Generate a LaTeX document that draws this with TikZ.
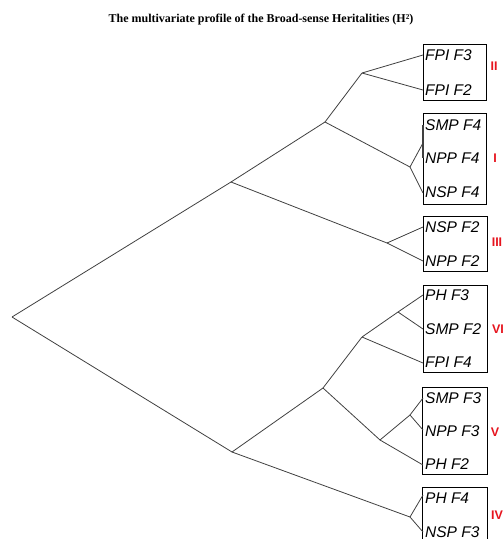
\documentclass[tikz,border=0pt]{standalone}
\usepackage{fontspec}
\setmainfont{Liberation Serif}
\setsansfont{Liberation Sans}
\definecolor{grpred}{RGB}{230,20,30}
\begin{document}
\begin{tikzpicture}[x=1pt,y=-1pt,
  branch/.style={draw=black!75,line width=0.8pt},
  clusterbox/.style={draw=black,line width=0.7pt},
  leaf/.style={anchor=west,inner sep=0pt,font=\sffamily\itshape\fontsize{15.5}{16}\selectfont},
  grp/.style={anchor=center,inner sep=0pt,text=grpred,font=\sffamily\bfseries\fontsize{12.5}{14}\selectfont}]
\useasboundingbox (0,0) rectangle (504,539);
% title
\node[font=\bfseries\fontsize{12}{14}\selectfont] (title) at (261,20) {The multivariate profile of the Broad-sense Heritalities (H²)};
% boxes
\draw[clusterbox] (423,44) rectangle (486,100);
\draw[clusterbox] (423,113) rectangle (486,204);
\draw[clusterbox] (423,216) rectangle (487,271);
\draw[clusterbox] (423,285) rectangle (487,372);
\draw[clusterbox] (422,387) rectangle (487,474);
\draw[clusterbox] (422,487) rectangle (487,560);
% leaves
\node[leaf] (l1) at (425,55) {FPI F3};
\node[leaf] (l2) at (425,90) {FPI F2};
\node[leaf] (l3) at (425,125) {SMP F4};
\node[leaf] (l4) at (425,158) {NPP F4};
\node[leaf] (l5) at (425,192) {NSP F4};
\node[leaf] (l6) at (425,227) {NSP F2};
\node[leaf] (l7) at (425,261) {NPP F2};
\node[leaf] (l8) at (425,295) {PH F3};
\node[leaf] (l9) at (425,329) {SMP F2};
\node[leaf] (l10) at (425,362) {FPI F4};
\node[leaf] (l11) at (425,398) {SMP F3};
\node[leaf] (l12) at (425,431) {NPP F3};
\node[leaf] (l13) at (425,464) {PH F2};
\node[leaf] (l14) at (425,498) {PH F4};
\node[leaf] (l15) at (425,532) {NSP F3};
% group labels
\node[grp] (gII) at (494,66) {II};
\node[grp] (gI) at (495,158) {I};
\node[grp] (gIII) at (497,242) {III};
\node[grp] (gVI) at (498,329) {VI};
\node[grp] (gV) at (495,432) {V};
\node[grp] (gIV) at (497,515) {IV};
% internal nodes
\coordinate (root) at (12,317);
\coordinate (A) at (231,182);
\coordinate (B) at (325,122);
\coordinate (nII) at (362,73);
\coordinate (nI) at (410,167);
\coordinate (nIs) at (423,143);
\coordinate (nIII) at (387,243);
\coordinate (C) at (232,452);
\coordinate (D) at (323,388);
\coordinate (nVI) at (362,337);
\coordinate (nVIs) at (398,312);
\coordinate (nV) at (380,440);
\coordinate (nVs) at (410,415);
\coordinate (nIV) at (410,517);
% leaf ends
\coordinate (e1) at (423,55);
\coordinate (e2) at (423,90);
\coordinate (e3) at (423,125);
\coordinate (e4) at (423,158);
\coordinate (e5) at (423,193);
\coordinate (e6) at (423,227);
\coordinate (e7) at (423,261);
\coordinate (e8) at (423,295);
\coordinate (e9) at (423,329);
\coordinate (e10) at (423,363);
\coordinate (e11) at (423,398);
\coordinate (e12) at (423,430);
\coordinate (e13) at (423,465);
\coordinate (e14) at (423,495);
\coordinate (e15) at (423,532);
% branches
\draw[branch] (root) -- (A);
\draw[branch] (root) -- (C);
\draw[branch] (A) -- (B);
\draw[branch] (A) -- (nIII);
\draw[branch] (B) -- (nII);
\draw[branch] (B) -- (nI);
\draw[branch] (nII) -- (e1);
\draw[branch] (nII) -- (e2);
\draw[branch] (nI) -- (nIs);
\draw[branch] (nI) -- (e5);
\draw[branch,line width=1.3pt] (e3) -- (e4);
\draw[branch] (nIII) -- (e6);
\draw[branch] (nIII) -- (e7);
\draw[branch] (C) -- (D);
\draw[branch] (C) -- (nIV);
\draw[branch] (D) -- (nVI);
\draw[branch] (D) -- (nV);
\draw[branch] (nVI) -- (nVIs);
\draw[branch] (nVI) -- (e10);
\draw[branch] (nVIs) -- (e8);
\draw[branch] (nVIs) -- (e9);
\draw[branch] (nV) -- (nVs);
\draw[branch] (nV) -- (e13);
\draw[branch] (nVs) -- (e11);
\draw[branch] (nVs) -- (e12);
\draw[branch] (nIV) -- (e14);
\draw[branch] (nIV) -- (e15);
\end{tikzpicture}
\end{document}
